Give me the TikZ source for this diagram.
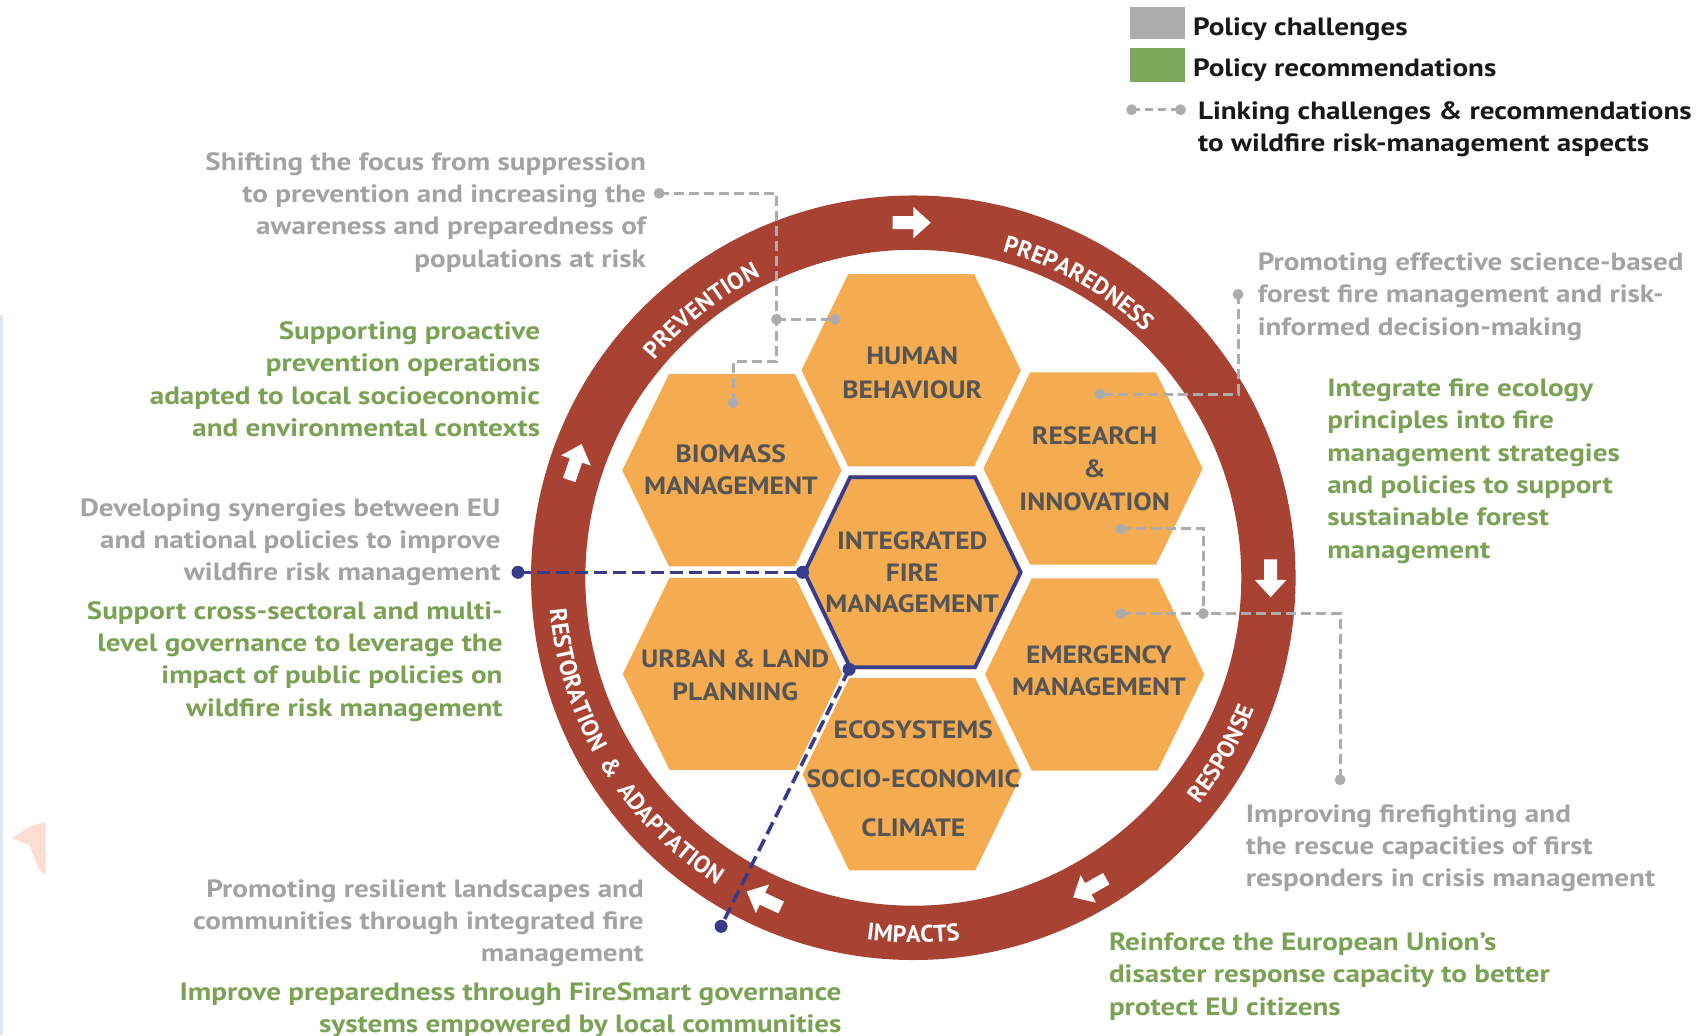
\documentclass[tikz,border=0pt]{standalone}
\usepackage{fontspec}
\setmainfont{PT Sans}
\newfontfamily\bodyfont{PT Sans}[FakeStretch=1.165]
\newfontfamily\hexfont{PT Sans}[FakeStretch=1.1]
\usetikzlibrary{decorations.text}
\definecolor{ringred}{RGB}{168,67,52}
\definecolor{hexorange}{RGB}{245,172,80}
\definecolor{hextext}{RGB}{85,85,85}
\definecolor{navy}{RGB}{55,60,140}
\definecolor{pgray}{RGB}{163,163,163}
\definecolor{lgray}{RGB}{172,172,172}
\definecolor{pgreen}{RGB}{122,161,84}
\definecolor{lgreen}{RGB}{126,167,90}
\definecolor{ink}{RGB}{25,25,25}
\definecolor{peach}{RGB}{251,222,210}
\definecolor{edgeblue}{RGB}{222,231,241}
\newcommand\tstrut{\rule{0pt}{20pt}}
\newcommand\ringfont{\color{white}\bfseries\fontsize{24}{24}\selectfont}
\newcommand\ringarrow[3]{\fill[white, shift={(#1,#2)}, rotate=#3] (-18,-6) -- (1,-6) -- (1,-14.5) -- (17,0) -- (1,14.5) -- (1,6) -- (-18,6) -- cycle;}
\newcommand\hexshape[1]{\fill[hexorange, shift={(#1)}] (-101,0) -- (-58,-88.5) -- (58,-88.5) -- (101,0) -- (58,88.5) -- (-58,88.5) -- cycle;}
\begin{document}
\begin{tikzpicture}[x=1.08598pt,y=-1.08598pt,
  txt/.style={inner sep=0pt, font=\bodyfont\bfseries\fontsize{25}{32.3}\selectfont},
  rtxt/.style={txt, align=right, anchor=north east, yshift=20pt},
  ltxt/.style={txt, align=left, anchor=north west, yshift=20pt},
  challenge/.style={text=pgray},
  recommend/.style={text=pgreen},
  hexlabel/.style={inner sep=0pt, align=center, text=hextext, font=\hexfont\bfseries\fontsize{25}{#1}\selectfont},
  hexlabel/.default=32,
  graylink/.style={draw=lgray, line width=3pt, dash pattern=on 10pt off 5pt},
  navylink/.style={draw=navy, line width=3.6pt, dash pattern=on 13pt off 6pt},
]
\useasboundingbox (0,0) rectangle (1565.4,953.06);
\fill[white] (0,0) rectangle (1565.4,953.06);
% faint edge artefacts
\fill[edgeblue] (0,290) rectangle (2.5,953.06);
\fill[peach] (11,772) -- (27,761) -- (42,757) -- (42,806) -- (36,801) -- (27,778) -- cycle;

% ring
\coordinate (C) at (841,532);
\fill[ringred, even odd rule] (C) circle[radius=352] (C) circle[radius=302];
\path[decorate, decoration={text along path, text align=center, text={|\ringfont|PREVENTION}}]
  ([shift={(-168.4:311)}]C) arc[start angle=-168.4, end angle=-88.4, radius=311];
\path[decorate, decoration={text along path, text align=center, text={|\ringfont|PREPAREDNESS}}]
  ([shift={(-105.7:311)}]C) arc[start angle=-105.7, end angle=-15.7, radius=311];
\path[decorate, decoration={text along path, text align=center, text={|\ringfont|RESPONSE}}]
  ([shift={(74.7:336)}]C) arc[start angle=74.7, end angle=-15.3, radius=336];
\path[decorate, decoration={text along path, text align=center, text={|\ringfont|IMPACTS}}]
  ([shift={(135:336)}]C) arc[start angle=135, end angle=45, radius=336];
\path[decorate, decoration={text along path, text align=center, text={|\ringfont|RESTORATION \ {\&} \ ADAPTATION}}]
  ([shift={(208.8:336)}]C) arc[start angle=208.8, end angle=88.8, radius=336];
\ringarrow{840}{205}{0}
\ringarrow{1170}{533}{-90}
\ringarrow{1003}{818}{-150.5}
\ringarrow{703}{828}{155}
\ringarrow{530}{425}{71}

% hexagons
\coordinate (HUM) at (839,341);
\coordinate (BIO) at (674,433);
\coordinate (RES) at (1006.5,431.5);
\coordinate (URB) at (674.5,620.5);
\coordinate (EME) at (1008,621);
\coordinate (ECO) at (840,713);
\coordinate (IFM) at (840.3,527);
\hexshape{HUM}
\hexshape{BIO}
\hexshape{RES}
\hexshape{URB}
\hexshape{EME}
\hexshape{ECO}
\fill[hexorange, shift={(IFM)}] (-101.4,0) -- (-58.4,-89.3) -- (58.4,-89.3) -- (101.4,0) -- (58.4,89.3) -- (-58.4,89.3) -- cycle;
\draw[navy, line width=3.8pt, line join=miter, shift={(IFM)}] (-99.5,0) -- (-57.5,-87.5) -- (57.5,-87.5) -- (99.5,0) -- (57.5,87.5) -- (-57.5,87.5) -- cycle;

\node[hexlabel=33.7] (hum) at (840,343.5) {HUMAN\\BEHAVIOUR};
\node[hexlabel=31.5] (bio) at (673,432.5) {BIOMASS\\MANAGEMENT};
\node[hexlabel=33] (res) at (1008,431.5) {RESEARCH\\\&\\INNOVATION};
\node[hexlabel=31.5] (ifm) at (840,527) {INTEGRATED\\FIRE\\MANAGEMENT};
\node[hexlabel=32.6] (urb) at (677,622) {URBAN \& LAND\\PLANNING};
\node[hexlabel=31.5] (eme) at (1012,617.5) {EMERGENCY\\MANAGEMENT};
\node[hexlabel=49] (eco) at (841,717) {ECOSYSTEMS\\SOCIO-ECONOMIC\\CLIMATE};

% texts
\node[rtxt, challenge] (t1) at (595,156.5) {\tstrut Shifting the focus from suppression\\to prevention and increasing the\\awareness and preparedness of\\populations at risk};
\node[rtxt, recommend] (t2) at (497.5,312.5) {\tstrut Supporting proactive\\prevention operations\\adapted to local socioeconomic\\and environmental contexts};
\node[rtxt, challenge] (t3) at (461,475) {\tstrut Developing synergies between EU\\and national policies to improve\\wildfire risk management};
\node[rtxt, recommend] (t4) at (463,570) {\tstrut Support cross-sectoral and multi-\\level governance to leverage the\\impact of public policies on\\wildfire risk management};
\node[rtxt, challenge] (t5) at (593,826) {\tstrut Promoting resilient landscapes and\\communities through integrated fire\\management};
\node[rtxt, recommend] (t6) at (775,921) {\tstrut Improve preparedness through FireSmart governance\\systems empowered by local communities};
\node[ltxt, challenge] (t7) at (1158,249) {\tstrut Promoting effective science-based\\forest fire management and risk-\\informed decision-making};
\node[ltxt, recommend] (t8) at (1222,365) {\tstrut Integrate fire ecology\\principles into fire\\management strategies\\and policies to support\\sustainable forest\\management};
\node[ltxt, challenge] (t9) at (1147,757) {\tstrut Improving firefighting and\\the rescue capacities of first\\responders in crisis management};
\node[ltxt, recommend] (t10) at (1021,875) {\tstrut Reinforce the European Union’s\\disaster response capacity to better\\protect EU citizens};

% legend
\fill[lgray] (1040.6,6.2) rectangle (1091,36.2);
\fill[lgreen] (1040.6,43.9) rectangle (1091,75.8);
\node[ltxt, text=ink] (leg1) at (1098.5,32.2) {\tstrut Policy challenges};
\node[ltxt, text=ink] (leg2) at (1098.5,70.6) {\tstrut Policy recommendations};
\node[ltxt, text=ink] (leg3) at (1103,109.5) {\tstrut Linking challenges \& recommendations\\to wildfire risk-management aspects};
\coordinate (lga) at (1042,101);
\coordinate (lgb) at (1087,101);
\draw[graylink, dash pattern=on 8pt off 5pt] (lga) -- (lgb);
\fill[lgray] (lga) circle[radius=5];
\fill[lgray] (lgb) circle[radius=5];

% gray links
\coordinate (g1a) at (607,178);
\coordinate (g1k) at (715,332.5);
\coordinate (g1b) at (675,371);
\coordinate (g1j) at (715,294);
\coordinate (g1c) at (769,294);
\draw[graylink] (g1a) -| (g1k) -| (g1b);
\draw[graylink] (g1j) -- (g1c);
\coordinate (g2a) at (1140,271);
\coordinate (g2b) at (1013,363);
\draw[graylink] (g2a) |- (g2b);
\coordinate (g3a) at (1032,487);
\coordinate (g3j) at (1108,565);
\coordinate (g3b) at (1032,565);
\coordinate (g3c) at (1234,718);
\draw[graylink] (g3a) -| (g3j);
\draw[graylink] (g3b) -| (g3c);
\foreach \p in {g1a,g1b,g1j,g1c,g2a,g2b,g3a,g3j,g3b,g3c}
  \fill[lgray] (\p) circle[radius=5];

% navy links
\coordinate (n1a) at (477,527);
\coordinate (n1b) at (739,527);
\coordinate (n2a) at (781.9,616.3);
\coordinate (n2b) at (664,853);
\draw[navylink] (n1a) -- (n1b);
\draw[navylink] (n2a) -- (n2b);
\foreach \p in {n1a,n1b,n2a,n2b}
  \fill[navy] (\p) circle[radius=6];
\end{tikzpicture}
\end{document}
